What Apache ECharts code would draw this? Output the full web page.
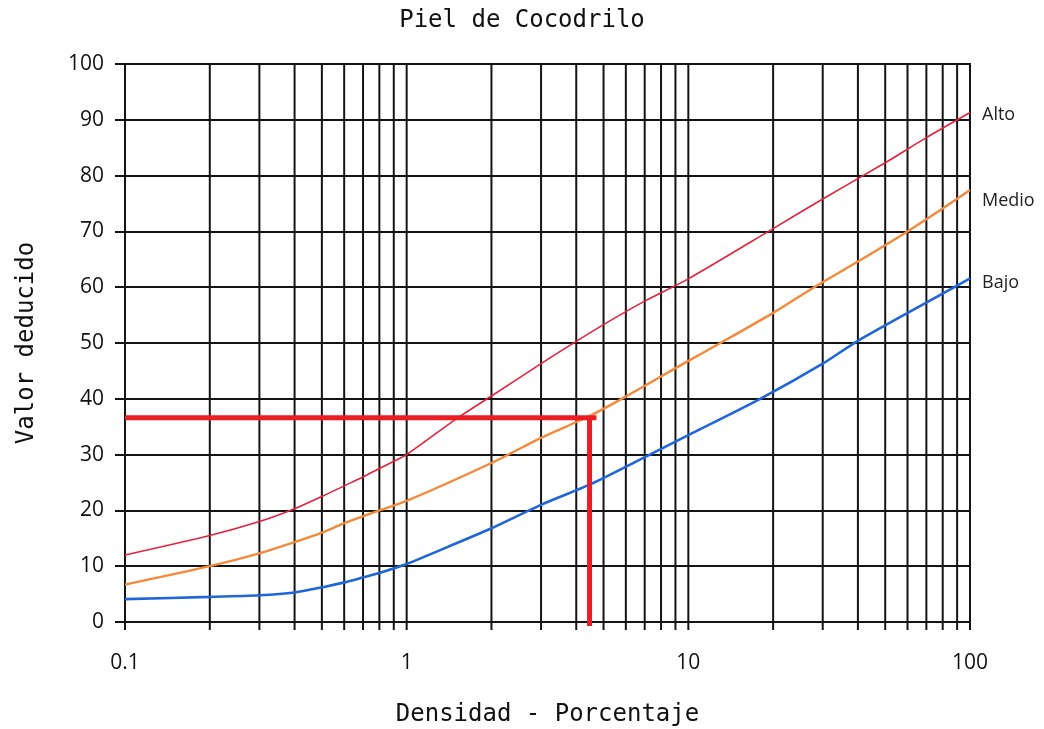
<!DOCTYPE html>
<html>
<head>
<meta charset="utf-8">
<script src="https://cdn.jsdelivr.net/npm/echarts@6/dist/echarts.min.js"></script>
<style>
html,body{margin:0;padding:0;background:#fff;}
#chart{width:1044px;height:729px;}
</style>
</head>
<body>
<div id="chart"></div>
<script>
// ---- data ----
const altoData = [[0.1,12],[0.2,15.5],[0.3,18],[0.4,20.3],[0.5,22.5],[0.6,24.4],[0.7,26],[0.8,27.5],[0.9,28.8],[1,30],[1.5,36.4],[2,40.5],[3,46.3],[4,50.3],[5,53.3],[7,57.5],[10,61.5],[20,70.5],[30,75.8],[50,82.3],[70,86.8],[100,91.3]];
const medioData = [[0.1,6.7],[0.2,10],[0.3,12.3],[0.4,14.3],[0.5,16],[0.6,17.7],[0.8,20],[1,21.7],[2,28.5],[3,33],[4.5,37],[6,40.4],[8,44],[10,46.8],[13,50],[20,55.4],[28,60],[40,64.6],[60,70],[80,74.1],[100,77.4]];
const bajoData = [[0.1,4.1],[0.2,4.5],[0.3,4.8],[0.4,5.3],[0.5,6.2],[0.6,7.1],[0.7,8],[0.8,8.8],[1,10.4],[1.5,14.1],[2,16.8],[3,21],[4.5,24.7],[7.3,30],[10,33.5],[18,40],[30,46.3],[40,50.4],[88,60],[100,61.6]];
const refHorizontal = [[0.1,36.6],[4.72,36.6]];
const refVertical = [[4.46,36.9],[4.46,-0.7]];
const xGridValues = [0.1,0.2,0.3,0.4,0.5,0.6,0.7,0.8,0.9,1,2,3,4,5,6,7,8,9,10,20,30,40,50,60,70,80,90,100];
const seriesNames = ['Alto','Medio','Bajo'];

const chart = echarts.init(document.getElementById('chart'));
const mono = 'DejaVu Sans Mono';
const labelFont = 'Open Sans';
chart.setOption({
  animation: false,
  backgroundColor: '#fff',
  title: {
    text: 'Piel de Cocodrilo', left: 'center', top: 4,
    textStyle: {fontFamily: mono, fontSize: 24, fontWeight: 'normal', color: '#111'}
  },
  grid: {left: 125, right: 74, top: 64, bottom: 107, containLabel: false, outerBoundsMode: 'none'},
  xAxis: {
    type: 'log', logBase: 10, min: 0.1, max: 100,
    name: 'Densidad - Porcentaje', nameLocation: 'middle', nameGap: 81,
    nameTextStyle: {fontFamily: mono, fontSize: 24, color: '#111'},
    axisLine: {show: false}, axisTick: {show: false},
    splitLine: {show: false}, minorTick: {show: false}, minorSplitLine: {show: false},
    axisLabel: {margin: 31, fontFamily: labelFont, fontSize: 21, color: '#111',
      formatter: v => String(+v.toPrecision(6))}
  },
  yAxis: {
    type: 'value', min: 0, max: 100, interval: 10,
    name: 'Valor deducido', nameLocation: 'middle', nameGap: 86,
    nameTextStyle: {fontFamily: mono, fontSize: 24, color: '#111'},
    axisLine: {show: false},
    axisTick: {show: true, length: 10, lineStyle: {color: '#141414', width: 2}},
    splitLine: {show: true, lineStyle: {color: '#141414', width: 2}},
    axisLabel: {margin: 21, fontFamily: labelFont, fontSize: 21, color: '#111'}
  },
  series: [
    {
      type: 'custom', silent: true, z: 1, clip: false,
      data: xGridValues.map(v => [v, 0]),
      encode: {x: 0, y: 1},
      renderItem: (params, api) => {
        const x = api.value(0);
        const t = api.coord([x, 100]);
        const b = api.coord([x, 0]);
        return {type: 'line', shape: {x1: t[0], y1: t[1] - 1, x2: b[0], y2: b[1] + 8},
          style: {stroke: '#141414', lineWidth: 2}};
      }
    },
    {
      name: seriesNames[0], type: 'line', data: altoData, smooth: 0.25, showSymbol: false, z: 3,
      lineStyle: {color: '#e8213c', width: 1.6},
      endLabel: {show: true, formatter: '{a}', distance: 12, offset: [0, 2], fontFamily: labelFont, fontSize: 18, color: '#222'}
    },
    {
      name: seriesNames[1], type: 'line', data: medioData, smooth: 0.25, showSymbol: false, z: 3,
      lineStyle: {color: '#f5893a', width: 2.4},
      endLabel: {show: true, formatter: '{a}', distance: 12, offset: [0, 11], fontFamily: labelFont, fontSize: 18, color: '#222'}
    },
    {
      name: seriesNames[2], type: 'line', data: bajoData, smooth: 0.25, showSymbol: false, z: 3,
      lineStyle: {color: '#1f66d9', width: 2.6},
      endLabel: {show: true, formatter: '{a}', distance: 12, offset: [0, 5], fontFamily: labelFont, fontSize: 18, color: '#222'}
    },
    {
      type: 'line', data: refHorizontal, showSymbol: false, z: 4, clip: false, silent: true,
      lineStyle: {color: '#ec1c24', width: 5}
    },
    {
      type: 'line', data: refVertical, showSymbol: false, z: 4, clip: false, silent: true,
      lineStyle: {color: '#ec1c24', width: 5}
    }
  ]
});
</script>
</body>
</html>
